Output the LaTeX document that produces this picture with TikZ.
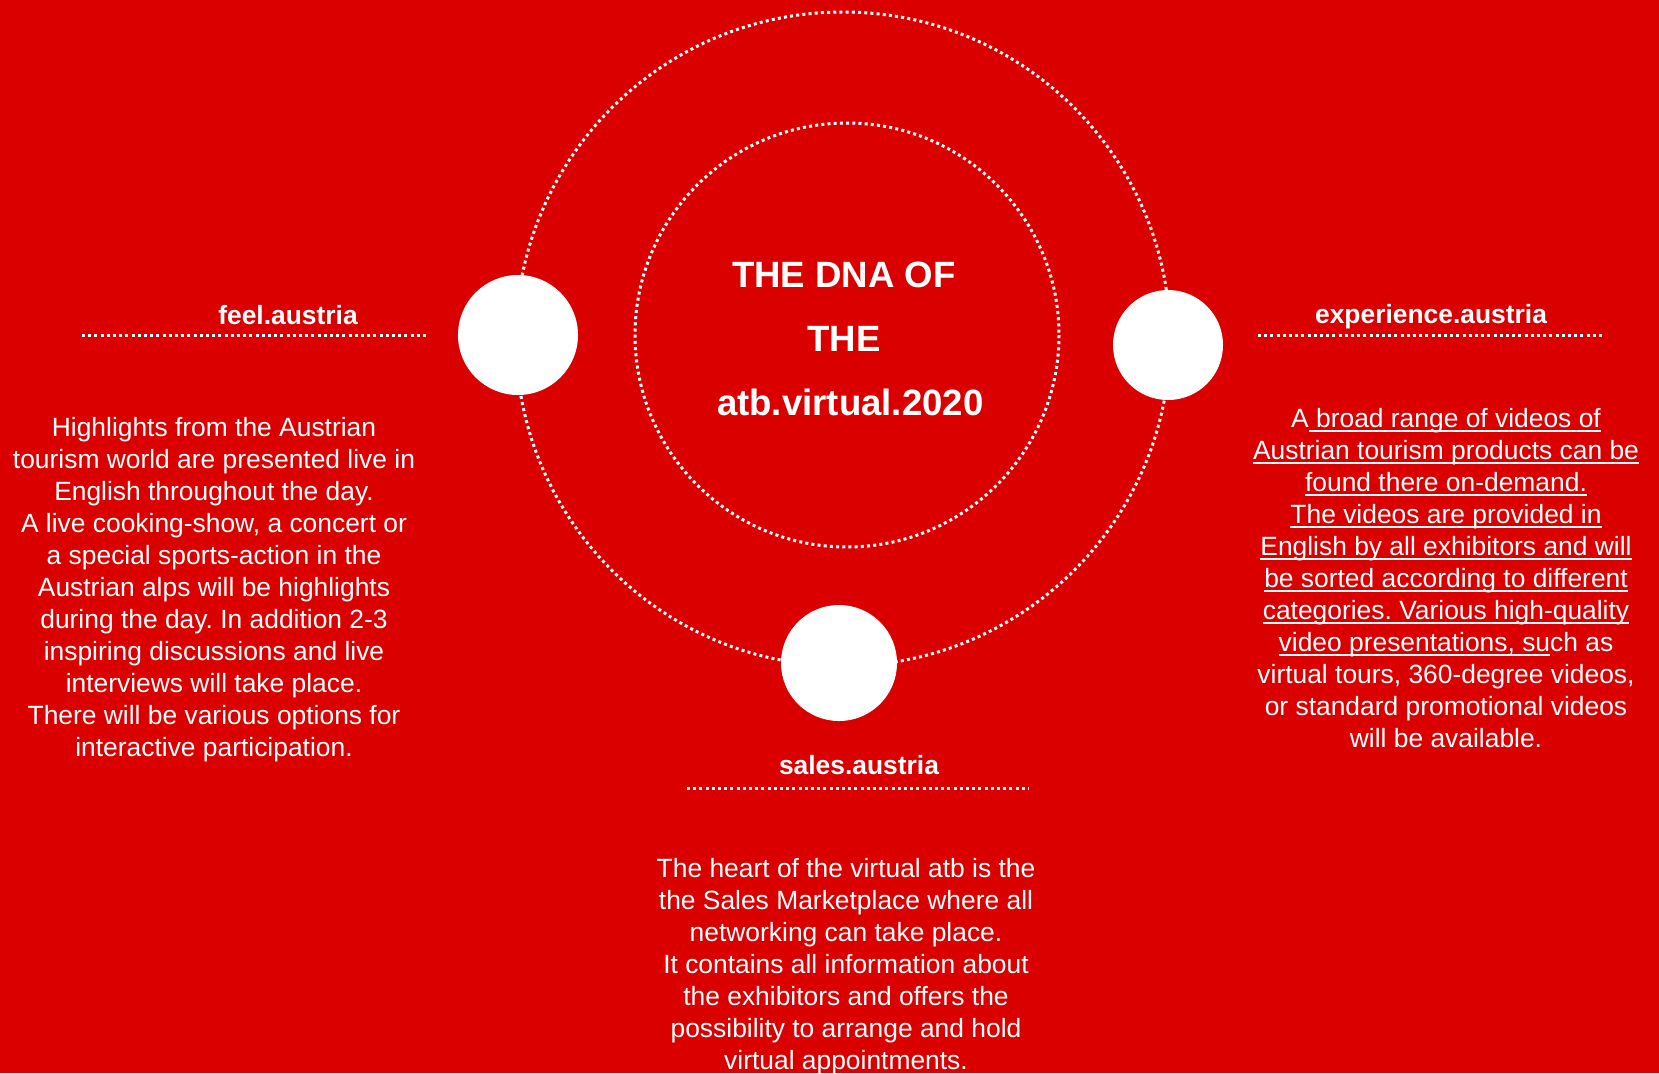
\documentclass[tikz,border=0pt]{standalone}
\usepackage{fontspec}
\setmainfont{Liberation Sans}
\frenchspacing
\definecolor{AtbRed}{RGB}{218,0,0}
\newsavebox\UlineBox
\newcommand\Uline[1]{%
    \sbox\UlineBox{#1}\rlap{\rule[-2.3pt]{\wd\UlineBox}{0.9pt}}\usebox\UlineBox}
\tikzset{
    dots/.style={white,line width=1.5pt,dash pattern=on 1.5pt off 1.6pt},
    spot/.style={circle,fill=white,inner sep=0pt,minimum size=#1},
    head/.style={white,font=\bfseries\fontsize{13.2}{16}\selectfont},
    title/.style={white,align=center,font=\bfseries\fontsize{18.3}{32}\selectfont},
    body/.style={white,align=center,font=\fontsize{13.2}{16}\selectfont},
}
\newcommand\TopicHead[7]{%
    \node[head] (#1Head) at (#3,#4) {#2};
    \coordinate (#1LineA) at (#5,#7);
    \coordinate (#1LineB) at (#6,#7);
    \draw[dots] (#1LineA) -- (#1LineB);
}

\begin{document}
\begin{tikzpicture}[x=0.5pt,y=-0.5pt]
    \fill[AtbRed] (0,0) rectangle (1659,1073);
    \useasboundingbox (0,0) rectangle (1659,1073);
    \coordinate (Outer) at (843,339);
    \coordinate (Inner) at (847,335);
    \draw[dots] (Outer) circle[radius=327];
    \draw[dots] (Inner) circle[radius=212];
    \node[spot=60pt] (FeelDot) at (518,335) {};
    \node[spot=55pt] (ExpDot) at (1168,345) {};
    \node[spot=58pt] (SalesDot) at (839,663) {};
    \node[title] (Dna) at (844,339) {THE DNA OF\\THE\\\hspace*{6.3pt}atb.virtual.2020};
    \TopicHead{Feel}{feel.austria}{288}{315}{82}{426}{335}
    \TopicHead{Exp}{experience.austria}{1431}{317}{1258}{1602}{335}
    \TopicHead{Sales}{sales.austria}{859}{765}{687}{1029}{788}
    \node[body] (FeelText) at (214,590) {Highlights from the Austrian\\
        tourism world are presented live in\\
        English throughout the day.\\
        A live cooking-show, a concert or\\
        a special sports-action in the\\
        Austrian alps will be highlights\\
        during the day. In addition 2-3\\
        inspiring discussions and live\\
        interviews will take place.\\
        There will be various options for\\
        interactive participation.};
    \node[body] (ExpText) at (1446,578) {A\Uline{ broad range of videos of}\\
        \Uline{Austrian tourism products can be}\\
        \Uline{found there on-demand.}\\
        \Uline{The videos are provided in}\\
        \Uline{English by all exhibitors and will}\\
        \Uline{be sorted according to different}\\
        \Uline{categories. Various high-quality}\\
        \Uline{video presentations, su}ch as\\
        virtual tours, 360-degree videos,\\
        or standard promotional videos\\
        will be available.};
    \node[body] (SalesText) at (846,967) {The heart of the virtual atb is the\\
        the Sales Marketplace where all\\
        networking can take place.\\
        It contains all information about\\
        the exhibitors and offers the\\
        possibility to arrange and hold\\
        virtual appointments.};
\end{tikzpicture}
\end{document}
